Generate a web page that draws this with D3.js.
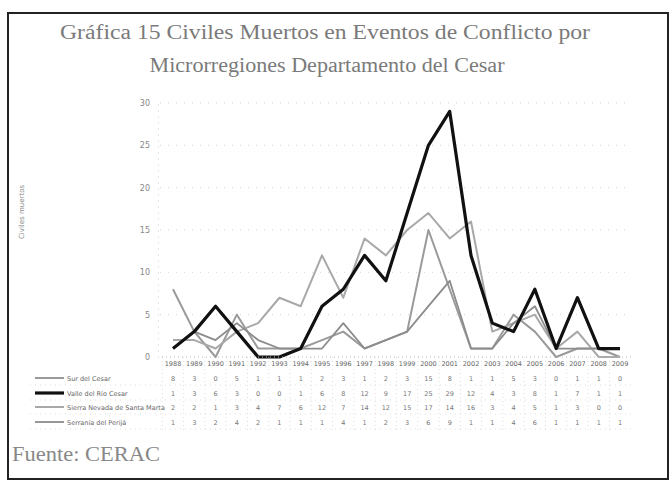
<html>
<head>
<meta charset="utf-8">
<script src="https://d3js.org/d3.v7.min.js"></script>
<style>
  body { margin: 0; background: #fff; }
  text { font-family: "Liberation Serif", serif; }
</style>
</head>
<body>
<div id="chart"></div>
<script>
// data
const years = ["1988","1989","1990","1991","1992","1993","1994","1995","1996","1997","1998",
               "1999","2000","2001","2002","2003","2004","2005","2006","2007","2008","2009"];
const seriesNames = ["Sur del Cesar", "Valle del Río Cesar", "Sierra Nevada de Santa Marta", "Serranía del Perijá"];
const sur     = [8,3,0,5,1,1,1,2,3,1,2,3,15,8,1,1,5,3,0,1,1,0];
const valle   = [1,3,6,3,0,0,1,6,8,12,9,17,25,29,12,4,3,8,1,7,1,1];
const sierra  = [2,2,1,3,4,7,6,12,7,14,12,15,17,14,16,3,4,5,1,3,0,0];
const perija  = [1,3,2,4,2,1,1,1,4,1,2,3,6,9,1,1,4,6,1,1,1,1];
const yTicks = [0,5,10,15,20,25,30];

const allSeries = [sur, valle, sierra, perija];
const colors = ["#9a9a9a", "#111", "#a8a8a8", "#8c8c8c"];
const widths = [2, 3.2, 2, 1.8];

const W = 672, H = 482;
const svg = d3.select("#chart").append("svg").attr("width", W).attr("height", H);

// frame
svg.append("rect").attr("x", 8).attr("y", 13).attr("width", 660).attr("height", 466)
  .attr("fill", "none").attr("stroke", "#222").attr("stroke-width", 2);

// title
svg.append("text").attr("x", 325).attr("y", 39).attr("text-anchor", "middle")
  .style("font-size", "20px").attr("fill", "#7a7a7a")
  .attr("textLength", 530).attr("lengthAdjust", "spacingAndGlyphs")
  .text("Gráfica 15 Civiles Muertos en Eventos de Conflicto por");
svg.append("text").attr("x", 327).attr("y", 72).attr("text-anchor", "middle")
  .style("font-size", "20px").attr("fill", "#7a7a7a")
  .attr("textLength", 355).attr("lengthAdjust", "spacingAndGlyphs")
  .text("Microrregiones Departamento del Cesar");

const x = d3.scalePoint().domain(years).range([173, 620]);
const colW = x.step();
const y = d3.scaleLinear().domain([0, 30]).range([357, 103]);

// gridlines
svg.append("g").selectAll("line").data(yTicks.slice(1)).join("line")
  .attr("x1", 160).attr("x2", 632)
  .attr("y1", d => y(d)).attr("y2", d => y(d))
  .attr("stroke", "#c8c8c8").attr("stroke-width", 0.8).attr("stroke-dasharray", "1,7");

// y axis
const yAxis = svg.append("g").attr("transform", "translate(158,0)")
  .call(d3.axisLeft(y).tickValues(yTicks).tickSize(0).tickPadding(8));
yAxis.select(".domain").attr("stroke", "#ccc").attr("stroke-dasharray", "1,5");
yAxis.selectAll("text").style("font-size", "8px").attr("fill", "#888")
  .style("font-family", "DejaVu Sans");

svg.append("text").attr("transform", "translate(24,212) rotate(-90)")
  .attr("text-anchor", "middle").style("font-size", "7px").attr("fill", "#888")
  .style("font-family", "DejaVu Sans").text("Civiles muertos");

// lines (black last so it sits on top)
const line = d3.line().x((d, i) => x(years[i])).y(d => y(d));
[0, 2, 3, 1].forEach(k => {
  svg.append("path").datum(allSeries[k])
    .attr("fill", "none").attr("stroke", colors[k]).attr("stroke-width", widths[k])
    .attr("stroke-linejoin", "round").attr("d", line);
});

// data table
const tbl = svg.append("g");
const rowY = [378, 393, 407, 422];
tbl.append("line").attr("x1", 162).attr("x2", 632).attr("y1", 357).attr("y2", 357)
  .attr("stroke", "#bbb").attr("stroke-dasharray", "1,3");
tbl.selectAll(".vl").data(years).join("line").attr("class", "vl")
  .attr("x1", d => x(d) - colW / 2).attr("x2", d => x(d) - colW / 2)
  .attr("y1", 357).attr("y2", 430)
  .attr("stroke", "#ccc").attr("stroke-width", 0.7).attr("stroke-dasharray", "1,3");
tbl.selectAll(".yr").data(years).join("text").attr("class", "yr")
  .attr("x", d => x(d)).attr("y", 366).attr("text-anchor", "middle")
  .style("font-size", "6.5px").style("font-family", "DejaVu Sans").attr("fill", "#666")
  .text(d => d);
rowY.forEach((ry, k) => {
  tbl.append("line").attr("x1", 30).attr("x2", 632).attr("y1", ry + 7).attr("y2", ry + 7)
    .attr("stroke", "#d0d0d0").attr("stroke-width", 0.7).attr("stroke-dasharray", "1,4");
  tbl.selectAll(".v" + k).data(allSeries[k]).join("text")
    .attr("x", (d, i) => x(years[i])).attr("y", ry + 2.5).attr("text-anchor", "middle")
    .style("font-size", "6.5px").style("font-family", "DejaVu Sans").attr("fill", "#777")
    .text(d => d);
  tbl.append("line").attr("x1", 35).attr("x2", 64).attr("y1", ry).attr("y2", ry)
    .attr("stroke", colors[k]).attr("stroke-width", widths[k]);
  tbl.append("text").attr("x", 67).attr("y", ry + 2.5)
    .style("font-size", "6.5px").style("font-family", "DejaVu Sans").attr("fill", "#666")
    .text(seriesNames[k]);
});

// source
svg.append("text").attr("x", 12).attr("y", 461)
  .style("font-size", "20px").attr("fill", "#888")
  .attr("textLength", 148).attr("lengthAdjust", "spacingAndGlyphs")
  .text("Fuente: CERAC");
</script>
</body>
</html>
